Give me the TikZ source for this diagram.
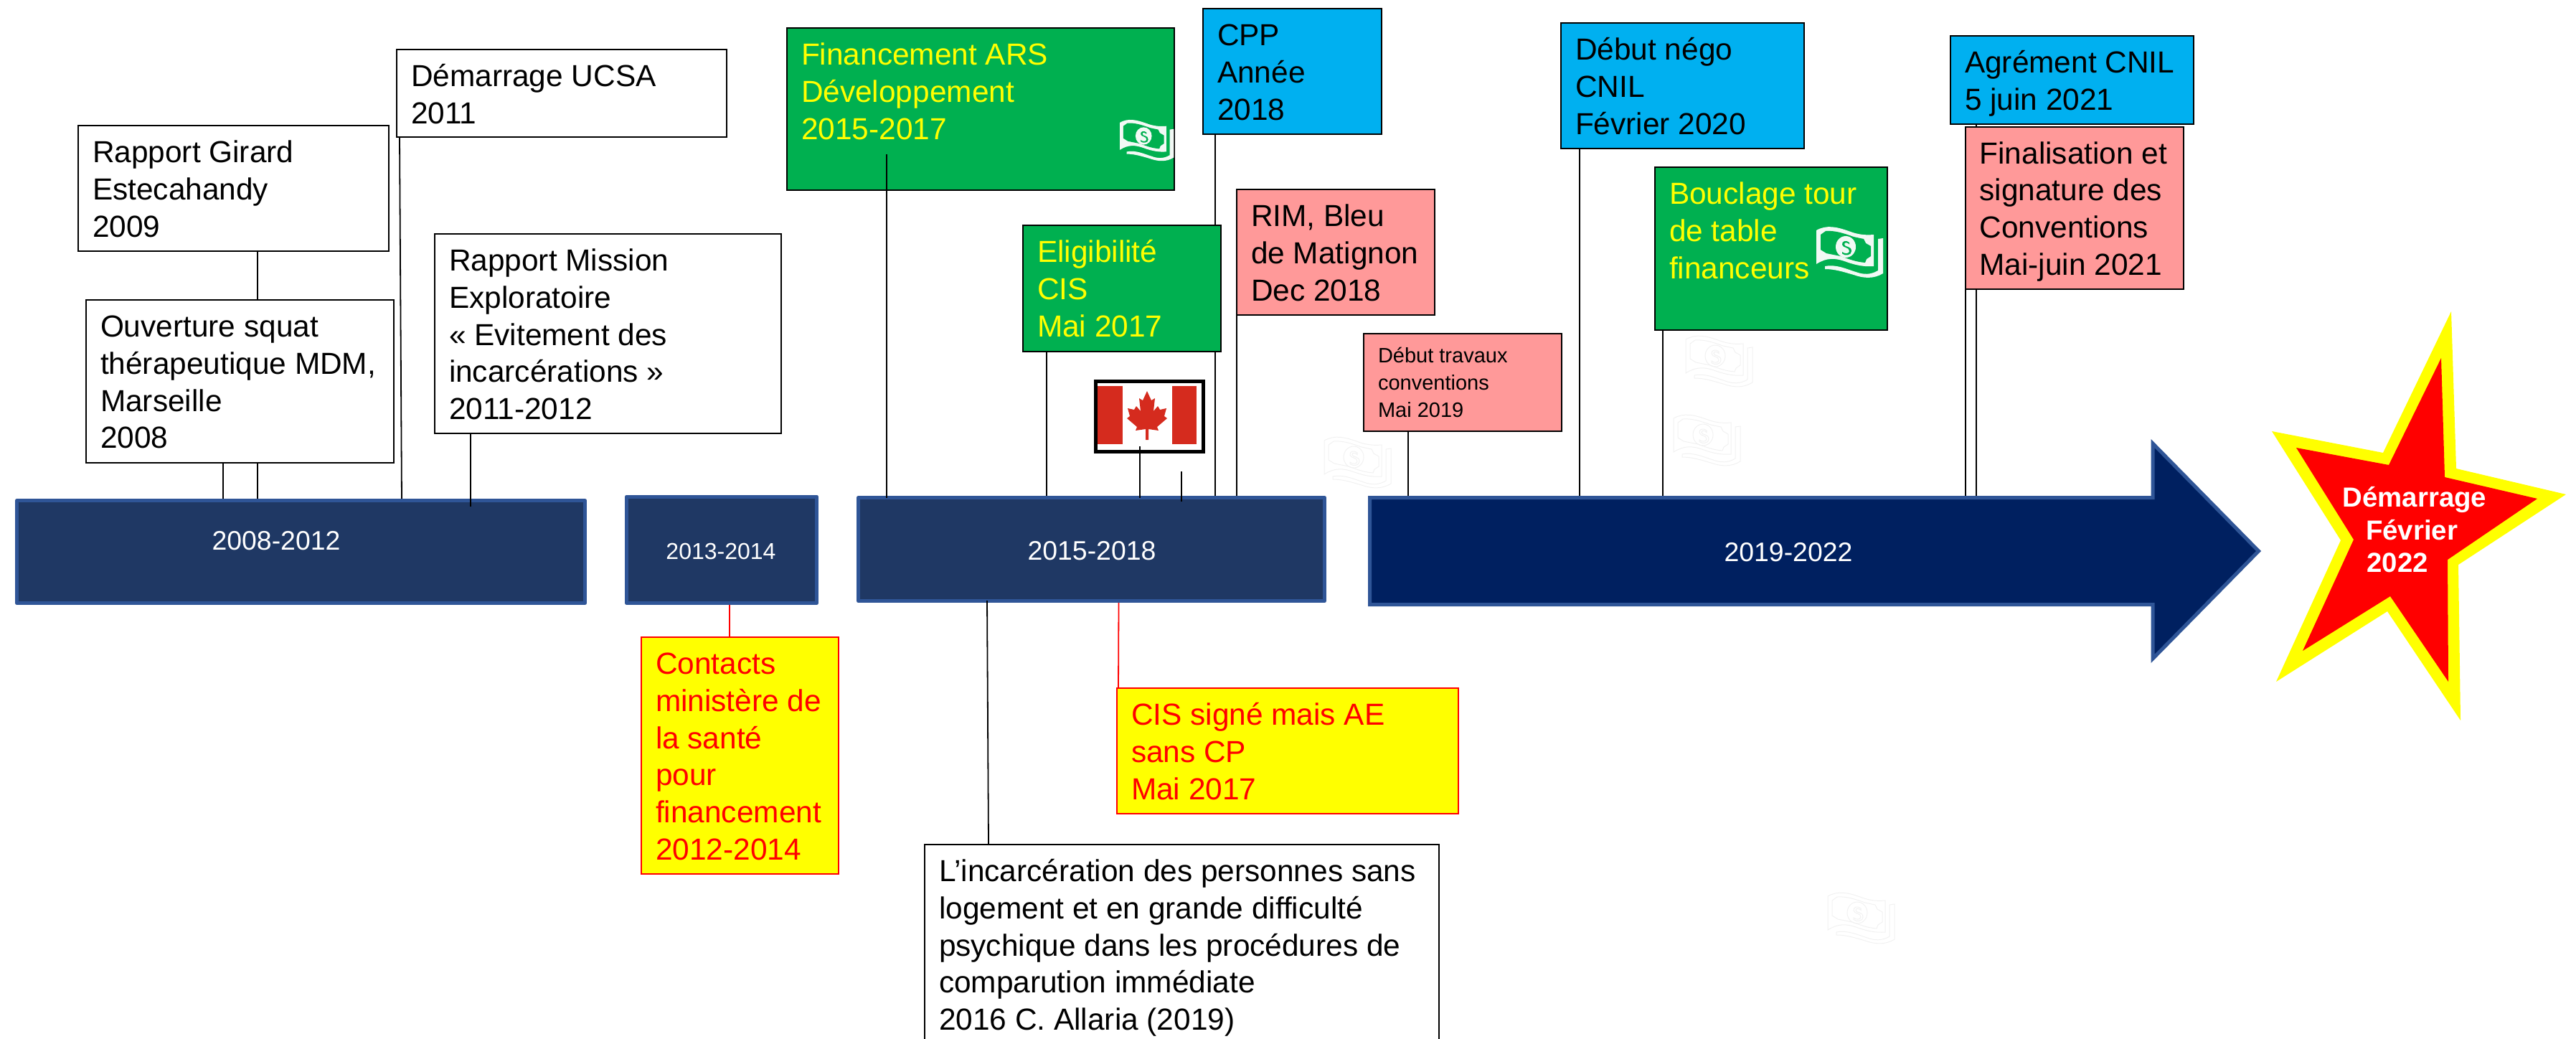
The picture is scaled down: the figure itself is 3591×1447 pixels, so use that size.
\documentclass[tikz,border=0pt]{standalone}
\usepackage{fontspec}
\setmainfont{Liberation Sans}
\usetikzlibrary{backgrounds}
\definecolor{cgreen}{HTML}{00B050}
\definecolor{cblue}{HTML}{00B0F0}
\definecolor{cpink}{HTML}{FF9999}
\definecolor{cyellow}{HTML}{FFFF00}
\definecolor{cred}{HTML}{FF0000}
\definecolor{bar}{HTML}{1F3864}
\definecolor{barb}{HTML}{2F5597}
\definecolor{arrowf}{HTML}{002060}
\definecolor{ghost}{HTML}{F1F1F1}
\definecolor{flagred}{HTML}{D52B1E}
\definecolor{billw}{HTML}{F2F9F5}
\tikzset{
  x=0.5pt,y=-0.5pt,
  tbox/.style={rectangle,draw=black,line width=1pt,inner ysep=0pt,inner xsep=10pt,outer sep=0pt,anchor=north west},
  white box/.style={tbox,fill=white,text=black},
  green box/.style={tbox,fill=cgreen,text=cyellow},
  blue box/.style={tbox,fill=cblue,text=black},
  pink box/.style={tbox,fill=cpink,text=black},
  yellow box/.style={tbox,draw=cred,fill=cyellow,text=cred},
  barbox/.style={rectangle,draw=barb,line width=2.5pt,line join=round,fill=bar,inner sep=0pt,outer sep=0pt,anchor=north west},
  barlabel/.style={text=white,inner sep=0pt},
  starlabel/.style={text=white,font=\bfseries\fontsize{19.2}{22}\selectfont,inner sep=0pt},
  conn/.style={draw=black,line width=0.9pt},
  redconn/.style={draw=cred,line width=0.9pt},
  ghostline/.style={draw=ghost,line width=.5pt},
  billbody/.style={fill=billw},
  billhole/.style={fill=cgreen},
}
% name, x1, y1, x2, y2, style, text
\newcommand\bx[7]{%
  \node[#6,minimum width={(#4-#2)*0.5pt},minimum height={(#5-#3)*0.5pt}] (#1) at (#2,#3)
  {\parbox[c][\dimexpr(#5pt-#3pt)/2\relax][t]{\dimexpr(#4pt-#2pt)/2-20pt\relax}{\raggedright\fontsize{21.2}{25.85}\selectfont\rule{0pt}{25.8pt}#7}};}
\newcommand\smbx[7]{%
  \node[#6,minimum width={(#4-#2)*0.5pt},minimum height={(#5-#3)*0.5pt}] (#1) at (#2,#3)
  {\parbox[c][\dimexpr(#5pt-#3pt)/2\relax][t]{\dimexpr(#4pt-#2pt)/2-20pt\relax}{\raggedright\fontsize{14.5}{19.2}\selectfont\rule{0pt}{20pt}#7}};}
\newcommand\barn[5]{%
  \node[barbox,minimum width={(#4-#2)*0.5pt},minimum height={(#5-#3)*0.5pt}] (#1) at (#2,#3) {};}
% connector from south side of a box, dx px from its west edge, to an anchor level
\newcommand\cn[4][conn]{\draw[#1] ([xshift=#4*0.5pt]#2.south west) -- ([xshift=#4*0.5pt]#2.south west |- #3);}
% bill icon: scale, x, y, main style, hole style
\newcommand\bill[5]{%
  \begin{scope}[shift={(#2,#3)},scale=#1]
    \path[#4] (0,6) .. controls (14,-2) and (28,1) .. (45,7) .. controls (58,12) and (68,13) .. (80,12) -- (80,56) .. controls (68,57) and (56,55) .. (42,50) .. controls (26,44) and (14,44) .. (0,53) -- cycle;
    \path[#5] (6,12) -- (13,7) .. controls (26,6) and (38,10) .. (52,15) -- (66,18) -- (69,24) -- (76,28) -- (76,42) -- (70,46) -- (68,51) .. controls (55,50) and (45,46) .. (34,42) -- (14,38) -- (6,33) -- cycle;
    \path[#4] (41,29) ellipse [x radius=14,y radius=15];
    \path[#5] (46,23) .. controls (42,19) and (35,21) .. (36,26) .. controls (37,31) and (46,29) .. (46,35) .. controls (46,39) and (39,39) .. (36,36) -- (36,38.5) .. controls (40,42) and (49,41) .. (49,35) .. controls (49,27) and (39,30) .. (39,25.5) .. controls (39,22) and (44,23) .. (46,25.5) -- cycle;
    \path[#4] (12,56) .. controls (28,53) and (42,60) .. (55,64) .. controls (66,68) and (76,68) .. (86,62) -- (86,18) -- (93,17) -- (93,66) .. controls (80,74) and (66,73) .. (52,68) .. controls (38,64) and (26,60) .. (12,60) -- cycle;
  \end{scope}}
\begin{document}
\begin{tikzpicture}
\useasboundingbox (0,0) rectangle (3591,1447);

% faint ghost icons
\bill{1}{1846}{608}{ghostline}{ghostline}
\bill{1}{2350}{467}{ghostline}{ghostline}
\bill{1}{2333}{577}{ghostline}{ghostline}
\bill{1}{2548}{1243}{ghostline}{ghostline}

% bars
\barn{bara}{23.5}{697.5}{815.5}{840.5}
\barn{barb}{873.5}{692}{1138.5}{840.5}
\barn{barc}{1196.5}{693.5}{1846.5}{837.5}
\draw[draw=barb,line width=2.5pt,fill=arrowf] (1909.5,693.5) -- (3001,693.5) -- (3001,618) -- (3148.5,768) -- (3001,918) -- (3001,842.5) -- (1909.5,842.5) -- cycle;
\coordinate (bard) at (2400,691);
\node[barlabel,font=\fontsize{18.7}{22}\selectfont] (la) at (385,754) {2008-2012};
\node[barlabel,font=\fontsize{16}{19}\selectfont] (lb) at (1005,768) {2013-2014};
\node[barlabel,font=\fontsize{18.7}{22}\selectfont] (lc) at (1522,768) {2015-2018};
\node[barlabel,font=\fontsize{18.7}{22}\selectfont] (ld) at (2493,770) {2019-2022};

% boxes
\bx{girard}{109}{175}{542}{350}{white box}{Rapport Girard\\Estecahandy\\2009}
\bx{ucsa}{553}{69}{1013}{191}{white box}{Démarrage UCSA\\2011}
\bx{squat}{120}{418}{549}{645}{white box}{Ouverture squat\\thérapeutique MDM,\\Marseille\\2008}
\bx{mission}{606}{326}{1089}{604}{white box}{Rapport Mission\\Exploratoire\\« Evitement des\\incarcérations »\\2011-2012}
\bx{ars}{1097}{39}{1637}{265}{green box}{Financement ARS\\Développement\\2015-2017}
\bx{cpp}{1677}{12}{1926}{187}{blue box}{CPP\\Année\\2018}
\bx{rim}{1724}{264}{2000}{439}{pink box}{RIM, Bleu\\de Matignon\\Dec 2018}
\bx{elig}{1426}{314}{1702}{490}{green box}{Eligibilité\\CIS\\Mai 2017}
\smbx{conv}{1901}{465}{2177}{601}{pink box}{Début travaux\\conventions\\Mai 2019}
\bx{nego}{2176}{32}{2515}{207}{blue box}{Début négo\\CNIL\\Février 2020}
\bx{tour}{2307}{233}{2631}{460}{green box}{Bouclage tour\\de table\\financeurs}
\bx{agr}{2719}{50}{3058}{173}{blue box}{Agrément CNIL\\5 juin 2021}
\bx{final}{2739.5}{176.5}{3044}{403}{pink box}{Finalisation et\\signature des\\Conventions\\Mai-juin 2021}
\bx{contacts}{894}{888}{1169}{1218}{yellow box}{Contacts\\ministère de\\la santé\\pour\\financement\\2012-2014}
\bx{cis}{1557}{959}{2033}{1134}{yellow box}{CIS signé mais AE\\sans CP\\Mai 2017}
\bx{allaria}{1289}{1177}{2006}{1470}{white box}{L’incarcération des personnes sans\\logement et en grande difficulté\\psychique dans les procédures de\\comparution immédiate\\2016 C. Allaria (2019)}

% bill icons on green boxes
\bill{0.81}{1561}{166}{billbody}{billhole}
\bill{1}{2532}{315}{billbody}{billhole}

% flag
\node[rectangle,draw=black,line width=2.5pt,fill=white,minimum width=75pt,minimum height=49pt,inner sep=0pt,outer sep=0pt,anchor=north west] (flag) at (1527,531) {};
\fill[flagred] (1530,538) rectangle (1565,619);
\fill[flagred] (1634,538) rectangle (1668,619);
\fill[flagred] (1599,545) -- (1605,558) -- (1610,555) -- (1608,573) -- (1614,566) -- (1617,571) -- (1626,569) -- (1623,580) -- (1627,583) -- (1613,595) -- (1615,600) -- (1601,598) -- (1601,613) -- (1597,613) -- (1597,598) -- (1583,600) -- (1585,595) -- (1571,583) -- (1575,580) -- (1572,569) -- (1581,571) -- (1584,566) -- (1590,573) -- (1588,555) -- (1593,558) -- cycle;

% connectors behind the boxes and the bars
\begin{scope}[on background layer]
  \cn{girard}{bara.north}{250}
  \cn{squat}{bara.north}{191}
  \draw[conn] ([xshift=4*0.5pt]ucsa.south west) -- ([xshift=536.5*0.5pt]bara.north west);
  \cn{elig}{barc.north}{33}
  \cn{cpp}{barc.north}{17}
  \cn{rim}{barc.north}{0}
  \cn{conv}{bard}{62}
  \cn{nego}{bard}{26}
  \cn{tour}{bard}{11}
  \cn{agr}{bard}{36}
  \cn{final}{bard}{0.5}
  \draw[redconn] ([xshift=143.5*0.5pt]barb.south west) -- ([xshift=123*0.5pt]contacts.north west);
  \draw[redconn] ([xshift=363*0.5pt]barc.south west) -- ([xshift=2*0.5pt]cis.north west);
\end{scope}
% connectors drawn over boxes and bars
\coordinate (marsA) at (1236,215);
\draw[conn] (marsA) -- (marsA |- barc.north);
\coordinate (mmis) at (656,706);
\draw[conn] ([xshift=50*0.5pt]mission.south west) -- (mmis);
\coordinate (fl) at (1589,622);
\draw[conn] (fl) -- (fl |- barc.north);
\coordinate (ca) at (1647,657);
\coordinate (cb) at (1647,699);
\draw[conn] (ca) -- (cb);
\coordinate (aa) at (1376,837);
\draw[conn] (aa) -- ([xshift=89*0.5pt]allaria.north west);

% star
\fill[cyellow] (3417,434) -- (3424,653) -- (3577,689) -- (3427,787) -- (3430,1004) -- (3328,852) -- (3173,950) -- (3263,753) -- (3167,601) -- (3322,631) -- cycle;
\fill[cred] (3403,499) -- (3408,665) -- (3537,695) -- (3412,780) -- (3413,950) -- (3332,831) -- (3210,907) -- (3281,752) -- (3201,624) -- (3330,648) -- cycle;
\node[starlabel] (s1) at (3366,696) {Démarrage};
\node[starlabel] (s2) at (3362,739) {Février};
\node[starlabel] (s3) at (3342,784) {2022};
\end{tikzpicture}
\end{document}
